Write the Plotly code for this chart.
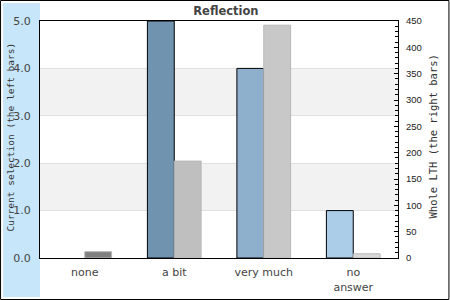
import plotly.graph_objects as go

categories = ["none", "a bit", "very much", "no<br>answer"]
current_selection = [0, 5, 4, 1]
whole_lth = [12, 184, 442, 8]

left_colors = ["#7093b0", "#7093b0", "#8fb0cc", "#abcde8"]
right_colors = ["#808080", "#bfbfbf", "#c8c8c8", "#d9d9d9"]

W, H = 450, 300
L, R, T, B = 40, 51.5, 21, 42
pw, ph = W - L - R, H - T - B

def px(x):
    return (x - L) / pw

def py(y):
    return (H - B - y) / ph

fig = go.Figure()
fig.add_trace(go.Bar(
    x=categories, y=current_selection, yaxis="y", offsetgroup="1",
    marker=dict(color=left_colors,
                line=dict(color="#000000", width=[0 if v == 0 else 1 for v in current_selection])),
    showlegend=False,
))
fig.add_trace(go.Bar(
    x=categories, y=whole_lth, yaxis="y2", offsetgroup="2",
    marker=dict(color=right_colors, line=dict(color="#b8b8b8", width=1)),
    showlegend=False,
))

shapes = [
    dict(type="rect", xref="paper", yref="paper", x0=px(3), x1=0, y0=py(297), y1=py(3),
         fillcolor="#c8e6fa", line=dict(width=0), layer="below"),
    dict(type="rect", xref="paper", yref="y", x0=0, x1=1, y0=1, y1=2,
         fillcolor="#f2f2f2", line=dict(width=0), layer="below"),
    dict(type="rect", xref="paper", yref="y", x0=0, x1=1, y0=3, y1=4,
         fillcolor="#f2f2f2", line=dict(width=0), layer="below"),
    dict(type="rect", xref="paper", yref="paper", x0=px(0.5), x1=px(449.5), y0=py(299.5), y1=py(0.5),
         fillcolor="rgba(0,0,0,0)", line=dict(color="#000000", width=1), layer="above"),
]

annotations = [
    dict(text="Current selection (the left bars)", xref="paper", yref="paper",
         x=px(9.5), y=py(137), textangle=-90, showarrow=False,
         font=dict(family="DejaVu Sans Mono", size=9.5, color="#333333"),
         xanchor="center", yanchor="middle"),
    dict(text="Whole LTH (the right bars)", xref="paper", yref="paper",
         x=px(434), y=py(136), textangle=-90, showarrow=False,
         font=dict(family="DejaVu Sans Mono", size=10.5, color="#333333"),
         xanchor="center", yanchor="middle"),
]

fig.update_layout(
    width=W, height=H,
    margin=dict(l=L, r=R, t=T, b=B, pad=0, autoexpand=False),
    paper_bgcolor="#ffffff", plot_bgcolor="#ffffff",
    barmode="group", bargap=0.4, bargroupgap=0,
    title=dict(text="<b>Reflection</b>", x=0.502, xref="container", xanchor="center",
               y=1 - 11 / H, yref="container", yanchor="middle", automargin=False,
               font=dict(family="DejaVu Sans", size=11.5, color="#444444")),
    font=dict(family="DejaVu Sans", size=11, color="#444444"),
    xaxis=dict(showline=True, linecolor="#000000", linewidth=1, mirror=True, automargin=False,
               ticks="", showgrid=False, tickfont=dict(size=11, color="#444444"),
               ticklabelstandoff=4),
    yaxis=dict(range=[0, 5], tickvals=[0, 1, 2, 3, 4, 5], tickformat=".1f", automargin=False,
               showline=True, linecolor="#000000", linewidth=1, mirror=True,
               showgrid=True, gridcolor="#e0e0e0", gridwidth=1, zeroline=False,
               ticks="", ticklabelstandoff=6, tickfont=dict(size=11, color="#444444")),
    yaxis2=dict(range=[0, 450], overlaying="y", side="right", tickvals=list(range(0, 451, 50)),
                showline=True, linecolor="#000000", linewidth=1, automargin=False,
                showgrid=False, zeroline=False,
                ticks="inside", ticklen=4, tickcolor="#000000",
                minor=dict(ticks="inside", ticklen=3, dtick=10, tickcolor="#000000", showgrid=False),
                ticklabelstandoff=5, tickfont=dict(family="Liberation Sans", size=9.5, color="#222222")),
    shapes=shapes,
    annotations=annotations,
)

fig.write_html("out.html")
